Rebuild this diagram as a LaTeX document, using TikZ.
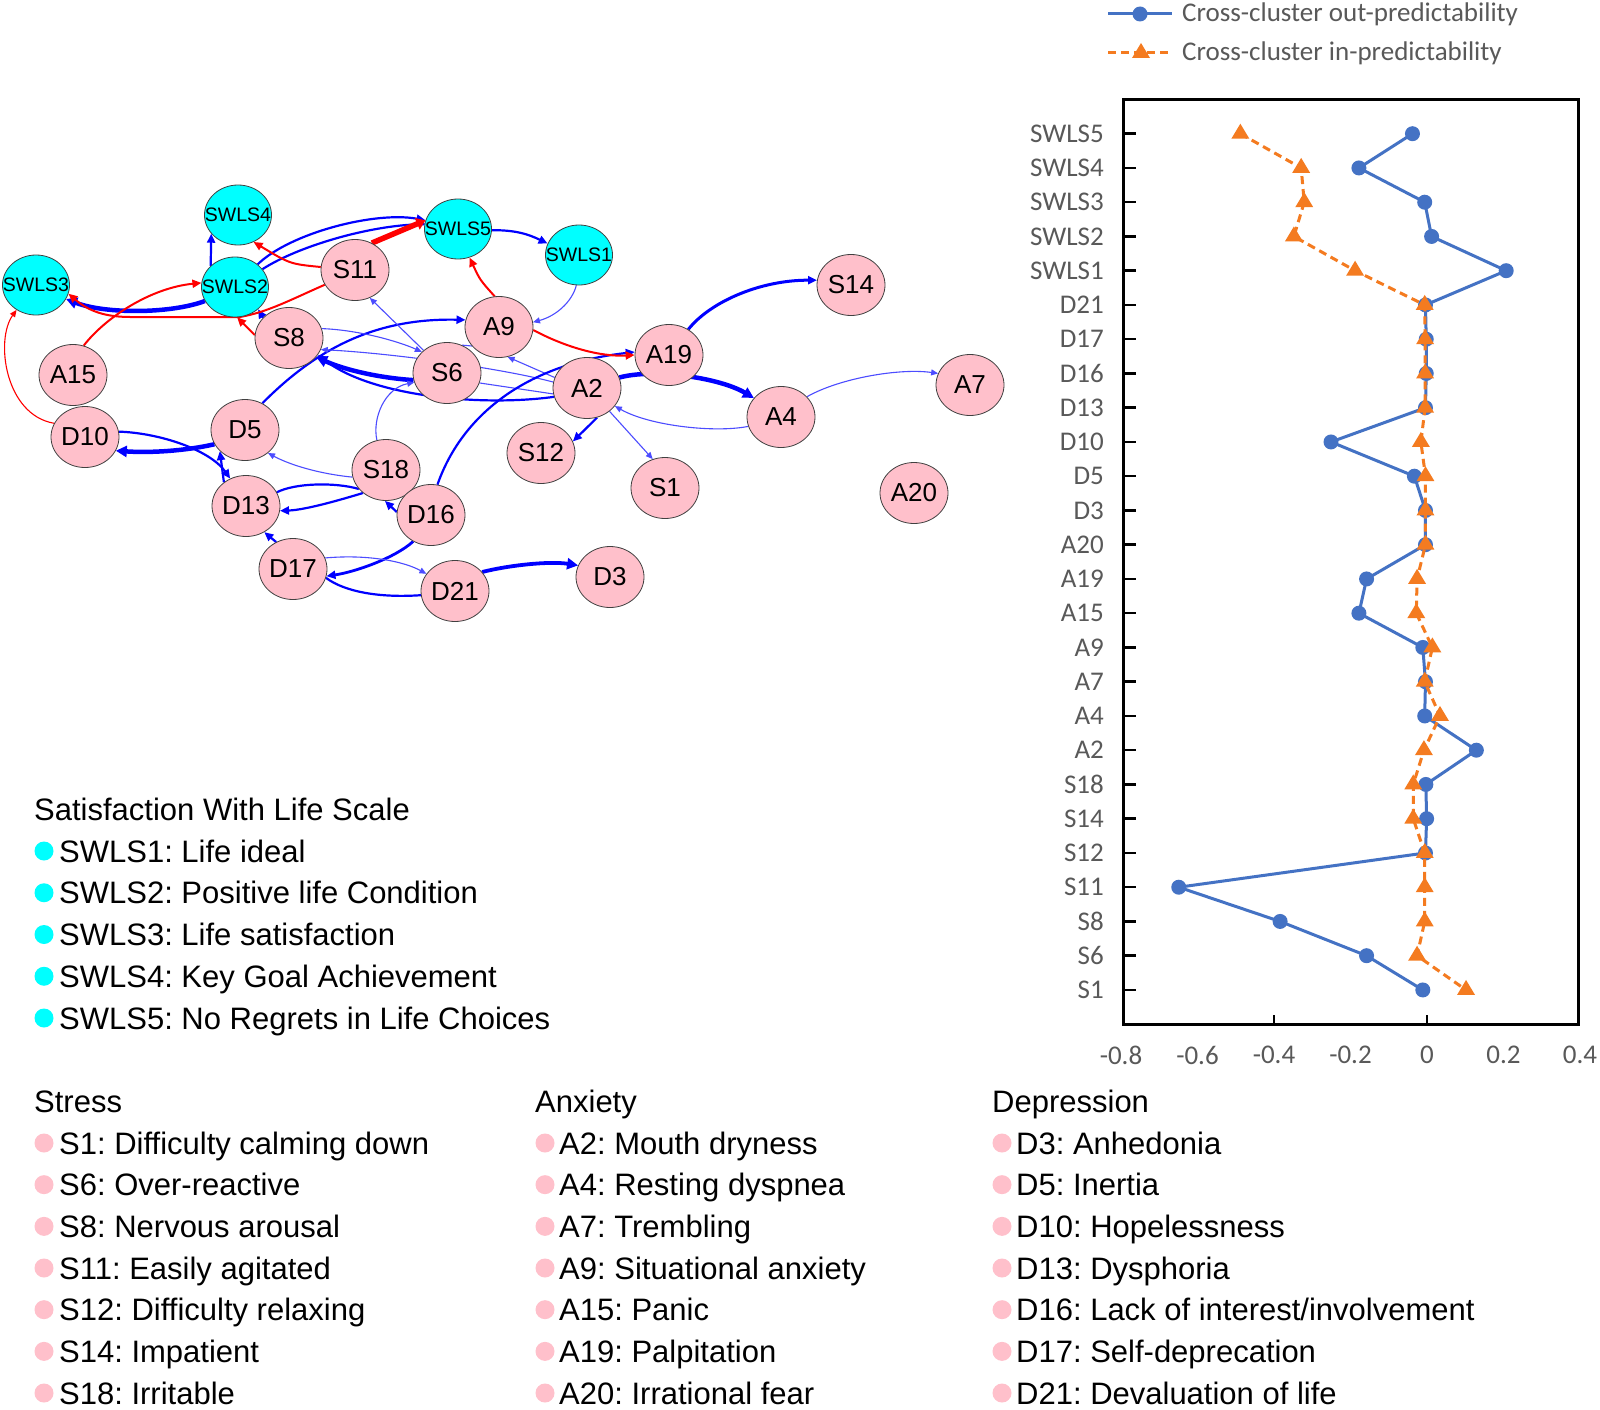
\documentclass[tikz,border=0pt]{standalone}
\usepackage{fontspec}
\setmainfont{Liberation Sans}
\newfontfamily\calfont{Carlito}
\usetikzlibrary{arrows.meta,backgrounds,shapes.geometric}
\definecolor{nodepink}{HTML}{FFC0CB}
\definecolor{nodecyan}{HTML}{00FFFF}
\definecolor{xlblue}{HTML}{4472C4}
\definecolor{xlorange}{HTML}{F47B20}
\definecolor{axgray}{HTML}{595959}
\definecolor{eblue}{HTML}{0000FF}
\definecolor{ered}{HTML}{FF0000}
\newcommand{\nlab}[1]{\makebox[0pt]{#1}}
\tikzset{
 pnode/.style={ellipse, draw=black!75, line width=0.8pt, fill=nodepink, minimum width=68pt, minimum height=61pt, inner sep=0pt, font=\fontsize{26}{26}\selectfont},
 cnode/.style={ellipse, draw=black!75, line width=0.8pt, fill=nodecyan, minimum width=67pt, minimum height=60pt, inner sep=0pt, font=\fontsize{19.5}{19.5}\selectfont},
 bthin/.style={draw=eblue!70, line width=1.1pt, -{Triangle[length=7pt,width=6pt]}},
 bthinnt/.style={draw=eblue!70, line width=1.1pt},
 bmed/.style={draw=eblue, line width=2.2pt, -{Triangle[length=9pt,width=8pt]}},
 bmednt/.style={draw=eblue, line width=2.2pt},
 bthick/.style={draw=eblue, line width=4.5pt, -{Triangle[length=11pt,width=11pt]}},
 rthin/.style={draw=ered, line width=1.1pt, -{Triangle[length=7pt,width=6pt]}},
 rmed/.style={draw=ered, line width=2pt, -{Triangle[length=9pt,width=8pt]}},
 rthick/.style={draw=ered, line width=5.5pt, -{Triangle[length=9pt,width=12pt]}},
 ylab/.style={font=\calfont\fontsize{27}{27}\selectfont, text=axgray, inner sep=0pt},
 bluel/.style={draw=xlblue, line width=3pt, line join=round},
 orangel/.style={draw=xlorange, line width=3pt, dash pattern=on 8pt off 5pt},
 lgtext/.style={font=\fontsize{31}{31}\selectfont, inner sep=0pt, anchor=base west},
}
\begin{document}
\frenchspacing
\begin{tikzpicture}[x=1pt,y=-1pt]
\useasboundingbox (0,0) rectangle (1600,1410);
% ---------- network nodes ----------
\node[cnode] (SWLS4) at (238,215) {\nlab{SWLS4}};
\node[cnode] (SWLS3) at (36,285) {\nlab{SWLS3}};
\node[cnode] (SWLS2) at (235,287) {\nlab{SWLS2}};
\node[cnode] (SWLS5) at (458,229) {\nlab{SWLS5}};
\node[cnode] (SWLS1) at (579,255) {\nlab{SWLS1}};
\node[pnode] (S11) at (355,270) {\nlab{S11}};
\node[pnode] (S14) at (851,285) {\nlab{S14}};
\node[pnode] (S8) at (289,338) {\nlab{S8}};
\node[pnode] (A9) at (499,327) {\nlab{A9}};
\node[pnode] (A19) at (669,355) {\nlab{A19}};
\node[pnode] (A15) at (73,375) {\nlab{A15}};
\node[pnode] (S6) at (447,373) {\nlab{S6}};
\node[pnode] (A2) at (587,388) {\nlab{A2}};
\node[pnode] (A7) at (970,385) {\nlab{A7}};
\node[pnode] (A4) at (781,417) {\nlab{A4}};
\node[pnode] (D10) at (85,437) {\nlab{D10}};
\node[pnode] (D5) at (245,430) {\nlab{D5}};
\node[pnode] (S12) at (541,453) {\nlab{S12}};
\node[pnode] (S18) at (386,470) {\nlab{S18}};
\node[pnode] (S1) at (665,488) {\nlab{S1}};
\node[pnode] (A20) at (914,493) {\nlab{A20}};
\node[pnode] (D13) at (246,506) {\nlab{D13}};
\node[pnode] (D16) at (431,515) {\nlab{D16}};
\node[pnode] (D17) at (293,569) {\nlab{D17}};
\node[pnode] (D21) at (455,591) {\nlab{D21}};
\node[pnode] (D3) at (610,577) {\nlab{D3}};
% ---------- edges ----------
\begin{scope}[on background layer]
\fill[white] (0,0) rectangle (1600,1410);
% blue
\draw[bthick] (SWLS2.205) .. controls (170,314) and (105,314) .. (SWLS3.-25);
\draw[bmed] (SWLS2.139) -- (SWLS4.215);
\draw[bmed] (SWLS2.45) .. controls (290,233) and (375,211) .. (SWLS5.165);
\draw[bmednt] (SWLS2.33) .. controls (300,245) and (375,224) .. (SWLS5.172);
\draw[bmed] (SWLS5.-2) .. controls (515,230) and (528,234) .. (SWLS1.160);
\draw[bthin] (SWLS1.265) .. controls (572,302) and (556,316) .. (A9.8);
\draw[bmed, line width=3pt] (A19.53) .. controls (710,302) and (760,280) .. (S14.172);
\draw[bthick] (A2.18) .. controls (655,368) and (720,378) .. (A4.145);
\draw[bthin] (A4.38) .. controls (840,378) and (900,368) .. (A7.160);
\draw[bthin] (A4.196) .. controls (715,433) and (650,426) .. (A2.327);
\draw[bmed] (A2.289) -- (S12.20);
\draw[bthin] (A2.314) -- (S1.113);
\draw[bthin] (A2.162) -- (A9.286);
\draw[bmed] (D5.57) .. controls (320,345) and (380,318) .. (A9.168);
\draw[bthin] (S8.16) .. controls (360,330) and (400,342) .. (S6.140);
\draw[bthin] (S6.136) -- (S11.298);
\draw[bthick] (S6.192) .. controls (380,378) and (345,370) .. (S8.-35);
\draw[bmed] (A2.195) .. controls (480,407) and (370,396) .. (S8.-30);
\draw[bthin] (A2.170) .. controls (500,368) and (390,353) .. (S8.-20);
\draw[bthinnt] (A2.190) -- (S6.-17);
\draw[bthinnt] (A9.215) -- (S6.62);
\draw[bthin] (S18.107) .. controls (372,418) and (385,388) .. (S6.196);
\draw[bthin] (S18.192) .. controls (320,474) and (290,465) .. (D5.-45);
\draw[bmednt] (D13.24) .. controls (295,483) and (335,482) .. (S18.215);
\draw[bmed] (S18.225) .. controls (340,500) and (305,510) .. (D13.-8);
\draw[bmed] (D16.175) -- (S18.268);
\draw[bmed] (D16.78) .. controls (460,420) and (520,365) .. (A19.175);
\draw[bmed, line width=2.8pt] (D16.236) .. controls (395,558) and (355,572) .. (D17.-12);
\draw[bmed] (D17.122) -- (D13.305);
\draw[bthin] (D17.19) .. controls (370,554) and (405,562) .. (D21.149);
\draw[bmednt] (D21.187) .. controls (380,598) and (345,592) .. (D17.-15);
\draw[bthick, line width=3.8pt] (D21.35) .. controls (510,565) and (550,561) .. (D3.160);
\draw[bthick] (D5.205) .. controls (185,451) and (150,453) .. (D10.-24);
\draw[bmed] (D10.9) .. controls (160,433) and (210,450) .. (D13.120);
\draw[bmed] (D13.133) -- (D5.220);
\draw[bmed] (S8.142) -- (SWLS2.316);
% red
\draw[rthick] (S11.58) -- (SWLS5.165);
\draw[rmed] (S11.175) .. controls (290,264) .. (SWLS4.300);
\draw[rmed] (S11.206) .. controls (290,300) and (268,312) .. (240,317) -- (130,317) .. controls (100,317) and (85,308) .. (SWLS3.-15);
\draw[rmed] (A15.70) .. controls (105,318) and (150,288) .. (SWLS2.173);
\draw[rthin] (D10.156) .. controls (5,415) and (-5,340) .. (SWLS3.232);
\draw[rmed] (S8.175) -- (SWLS2.274);
\draw[rmed] (A9.98) .. controls (480,280) .. (SWLS5.292);
\draw[rmed] (A9.-5) .. controls (565,347) and (600,357) .. (A19.180);
\end{scope}
% ---------- chart ----------
\draw[line width=3pt] (1123,100) rectangle (1578,1024);
\foreach \lab [count=\i from 0] in {SWLS5,SWLS4,SWLS3,SWLS2,SWLS1,D21,D17,D16,D13,D10,D5,D3,A20,A19,A15,A9,A7,A4,A2,S18,S14,S12,S11,S8,S6,S1}{
  \draw[line width=2.5pt] (1123,{133.7+34.25*\i}) -- ++(13,0);
  \node[ylab, anchor=east] (yl\i) at (1104,{133.7+34.25*\i}) {\lab};
}
\draw[line width=2.5pt] (1274,1024) -- ++(0,-9);
\draw[line width=2.5pt] (1427,1024) -- ++(0,-9);
\foreach \t [count=\k from 0] in {-0.8,-0.6,-0.4,-0.2,0,0.2,0.4}{
  \node[ylab] (xl\k) at ({1121+76.5*\k},1055) {\t};
}
\foreach \i/\b/\o in {0/-0.038/-0.488, 1/-0.178/-0.329, 2/-0.006/-0.321, 3/0.012/-0.348, 4/0.207/-0.188,
  5/-0.004/-0.006, 6/-0.002/-0.005, 7/-0.002/-0.005, 8/-0.004/-0.005, 9/-0.251/-0.016,
  10/-0.033/-0.004, 11/-0.004/-0.004, 12/-0.004/-0.004, 13/-0.158/-0.026, 14/-0.178/-0.028,
  15/-0.011/0.014, 16/-0.004/-0.006, 17/-0.006/0.034, 18/0.129/-0.008, 19/-0.003/-0.036,
  20/-0.001/-0.036, 21/-0.004/-0.006, 22/-0.649/-0.006, 23/-0.384/-0.006, 24/-0.158/-0.026,
  25/-0.011/0.102}{
  \coordinate (b\i) at ({1427+382.5*\b},{133.7+34.25*\i});
  \coordinate (o\i) at ({1427+382.5*\o},{133.7+34.25*\i});
}
\draw[bluel] (b0) \foreach \i in {1,...,25}{ -- (b\i) };
\foreach \i in {0,...,25}{ \fill[xlblue] (b\i) circle[radius=7.5]; }
\draw[orangel] (o0) \foreach \i in {1,...,25}{ -- (o\i) };
\foreach \i in {0,...,25}{ \fill[xlorange] (o\i) ++(-9,5) -- ++(18,0) -- ++(-9,-15) -- cycle; }
% chart legend
\draw[bluel] (1108,14) -- (1172,14);
\fill[xlblue] (1140,14) circle[radius=7.5];
\draw[orangel] (1108,53) -- (1172,53);
\fill[xlorange] (1132,58) -- ++(18,0) -- ++(-9,-15) -- cycle;
\node[ylab, anchor=base west] (lg1) at (1182,22) {Cross-cluster out-predictability};
\node[ylab, anchor=base west] (lg2) at (1182,61) {Cross-cluster in-predictability};
% ---------- text legend ----------
\node[lgtext] (hSW) at (34,820) {Satisfaction With Life Scale};
\foreach \t [count=\k from 0] in {SWLS1: Life ideal,SWLS2: Positive life Condition,SWLS3: Life satisfaction,SWLS4: Key Goal Achievement,SWLS5: No Regrets in Life Choices}{
  \fill[nodecyan] (44,{851+41.75*\k}) circle[radius=9.5];
  \node[lgtext] (sw\k) at (59,{862+41.75*\k}) {\t};
}
\node[lgtext] (hS) at (34,1112) {Stress};
\node[lgtext] (hA) at (535,1112) {Anxiety};
\node[lgtext] (hD) at (992,1112) {Depression};
\foreach \t [count=\k from 0] in {S1: Difficulty calming down,S6: Over-reactive,S8: Nervous arousal,S11: Easily agitated,S12: Difficulty relaxing,S14: Impatient,S18: Irritable}{
  \fill[nodepink] (44,{1143+41.67*\k}) circle[radius=9.5];
  \node[lgtext] (st\k) at (59,{1154+41.67*\k}) {\t};
}
\foreach \t [count=\k from 0] in {A2: Mouth dryness,A4: Resting dyspnea,A7: Trembling,A9: Situational anxiety,A15: Panic,A19: Palpitation,A20: Irrational fear}{
  \fill[nodepink] (545,{1143+41.67*\k}) circle[radius=9.5];
  \node[lgtext] (an\k) at (559,{1154+41.67*\k}) {\t};
}
\foreach \t [count=\k from 0] in {D3: Anhedonia,D5: Inertia,D10: Hopelessness,D13: Dysphoria,D16: Lack of interest/involvement,D17: Self-deprecation,D21: Devaluation of life}{
  \fill[nodepink] (1002,{1143+41.67*\k}) circle[radius=9.5];
  \node[lgtext] (de\k) at (1016,{1154+41.67*\k}) {\t};
}
\end{tikzpicture}
\end{document}
